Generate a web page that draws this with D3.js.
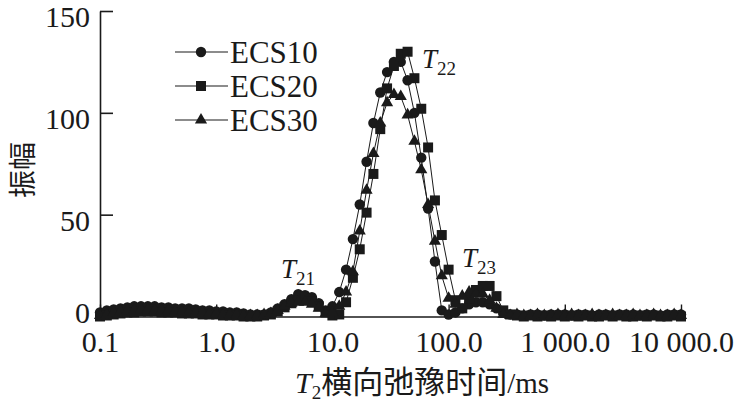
<!DOCTYPE html>
<html><head><meta charset="utf-8">
<script src="https://cdn.jsdelivr.net/npm/d3@7"></script>
<style>
html,body{margin:0;padding:0;background:#fff;}
svg{display:block;}
</style></head>
<body>
<svg id="chart" width="751" height="414"></svg>
<script>
// T2 relaxation time grid (ms)
const times = [
 0.1,0.1145,0.1311,0.1501,0.1719,0.1968,0.2254,0.2581,0.2955,0.3384,0.3875,0.4437,0.5080,0.5817,0.6661,0.7627,0.8733,
 1,1.145,1.311,1.501,1.719,1.968,2.254,2.581,2.955,3.384,3.875,4.437,5.080,5.817,6.661,7.627,8.733,
 10,11.45,13.11,15.01,17.19,19.68,22.54,25.81,29.55,33.84,38.75,44.37,50.80,58.17,66.61,76.27,87.33,
 100,114.5,131.1,150.1,171.9,196.8,225.4,258.1,295.5,338.4,387.5,443.7,508.0,581.7,666.1,762.7,873.3,
 1000,1145,1311,1501,1719,1968,2254,2581,2955,3384,3875,4437,5080,5817,6661,7627,8733,
 10000
];
const ecs10 = [
 2,3,3.5,4,4.5,5,5,5,5,4.5,4.5,4,4,4,3.5,3,3,
 2.5,2.5,2,2,1.5,1,1,1,2,4,6,8.5,11,10.5,9.5,6.5,3,
 5,12,23,38,55,76,95,110,120,125,125,116,100,78,53,27,3,
 1,2,4,6,7,7,6,4,2,1,1,0.5,1,1,0.5,1,1,
 1,0.5,1,1,0.5,1,1,0.5,1,1,1,0.5,1,1,0.5,1,1,
 1
];
const ecs20 = [
 0,0.5,1,1.5,2,2,2.5,2.5,2.5,2,2,2,1.5,1.5,1.5,1,1,
 1,0.5,0.5,0.5,0,0,0,0.5,1,2.5,4.5,6.5,8,8.5,7.5,5,2,
 0.5,1,7,19,33,51,70,92,112,123,129,130,117,102,83,57,40,
 23,8,4,9,13,15,15,10,3,1,0.5,0,0.5,0,0.5,0,0.5,
 0,0.5,0,0.5,0,0,0.5,0,0.5,0,0,0.5,0,0.5,0,0,0.5,
 0
];
const ecs30 = [
 0.5,1,2,2.5,3,3,3.5,3.5,3,3,3,2.5,2.5,2,2,2,1.5,
 1.5,1,1,1,0.5,0.5,0.5,1,1.5,3,5,6.5,7,7,6,4,1.5,
 2,5,12,22,42,62,80,95,105,109,108,99,86,72,55,37,20,
 9,6,10,12,11,11,8,4,1,0.5,1,0.5,0.5,1,0.5,0.5,1,
 0.5,1,0.5,0.5,1,0.5,0.5,1,0.5,0.5,1,0.5,0.5,1,0.5,0.5,1,
 0.5
];
const seriesNames = ["ECS10","ECS20","ECS30"];
const xTickValues = [0.1,1,10,100,1000,10000];
const xTickLabels = ["0.1","1.0","10.0","100.0","1 000.0","10 000.0"];
const yTickValues = [0,50,100,150];

const ink = "#1a1a1a";
const serif = "'Liberation Serif','Times New Roman',serif";
const cjk = "'Noto Sans CJK SC','Noto Sans CJK JP',sans-serif";

const svg = d3.select("#chart");
const x = d3.scaleLog().domain([0.1, 10000]).range([100, 681]);
const y = d3.scaleLinear().domain([0, 150]).range([316.5, 11]);

// axes
const xAxis = d3.axisBottom(x).tickValues(xTickValues)
  .tickFormat((d,i)=>xTickLabels[i]).tickSizeInner(-12).tickSizeOuter(0).tickPadding(14);
const gx = svg.append("g").attr("transform","translate(0,316.5)").call(xAxis);
gx.select(".domain").attr("stroke",ink).attr("stroke-width",1.6);
gx.selectAll(".tick line").attr("stroke",ink).attr("stroke-width",1.4);
gx.selectAll(".tick text").attr("font-family",serif).attr("font-size",30).attr("fill",ink);

const yAxis = d3.axisLeft(y).tickValues(yTickValues).tickSizeInner(-13).tickSizeOuter(0).tickPadding(10);
const gy = svg.append("g").attr("transform","translate(100,0)").call(yAxis);
gy.select(".domain").attr("stroke",ink).attr("stroke-width",1.6);
gy.selectAll(".tick line").attr("stroke",ink).attr("stroke-width",1.6);
gy.selectAll(".tick text").attr("font-family",serif).attr("font-size",30).attr("fill",ink)
  .attr("dy", d => d === 0 ? "0.2em" : "0.52em");

// series
const symbols = [d3.symbolCircle, d3.symbolSquare, d3.symbolTriangle];
const sizes = [85, 100, 64];
const allSeries = [ecs10, ecs20, ecs30];
const line = d3.line().x(d=>x(d[0])).y(d=>y(d[1]));

allSeries.forEach((vals, s) => {
  const pts = times.map((t,i)=>[t, vals[i]]);
  svg.append("path").datum(pts).attr("d", line)
    .attr("fill","none").attr("stroke",ink).attr("stroke-width",1);
  svg.append("g").selectAll("path").data(pts).join("path")
    .attr("transform", d=>`translate(${x(d[0])},${y(d[1])})`)
    .attr("d", d3.symbol().type(symbols[s]).size(sizes[s]))
    .attr("fill", ink);
});

// legend
const legRows = [52, 86, 120];
seriesNames.forEach((name, s) => {
  const g = svg.append("g");
  g.append("line").attr("x1",175).attr("x2",228).attr("y1",legRows[s]).attr("y2",legRows[s])
    .attr("stroke",ink).attr("stroke-width",1.2);
  g.append("path").attr("transform",`translate(201,${legRows[s]})`)
    .attr("d", d3.symbol().type(symbols[s]).size(sizes[s])).attr("fill",ink);
  g.append("text").attr("x",230).attr("y",legRows[s]+11)
    .attr("font-family",serif).attr("font-size",31).attr("fill",ink).text(name);
});

// peak annotations
function annot(px, py, sub) {
  const t = svg.append("text").attr("x",px).attr("y",py).attr("font-family",serif).attr("fill",ink);
  t.append("tspan").attr("font-style","italic").attr("font-size",27).text("T");
  t.append("tspan").attr("font-size",19).attr("dy",7).text(sub);
}
annot(422, 68, "22");
annot(281, 278, "21");
annot(462, 267, "23");

// axis titles
const xt = svg.append("text").attr("x",295).attr("y",393).attr("fill",ink);
xt.append("tspan").attr("font-family",serif).attr("font-style","italic").attr("font-size",30).text("T");
xt.append("tspan").attr("font-family",serif).attr("font-size",19).attr("dy",6).text("2");
xt.append("tspan").attr("font-family",cjk).attr("font-size",31).attr("dy",-6).text("横向弛豫时间");
xt.append("tspan").attr("font-family",serif).attr("font-size",29).text("/ms");

svg.append("text").attr("transform","translate(33,170) rotate(-90)")
  .attr("text-anchor","middle").attr("font-family",cjk).attr("font-size",28).attr("fill",ink).text("振幅");
</script>
</body></html>
